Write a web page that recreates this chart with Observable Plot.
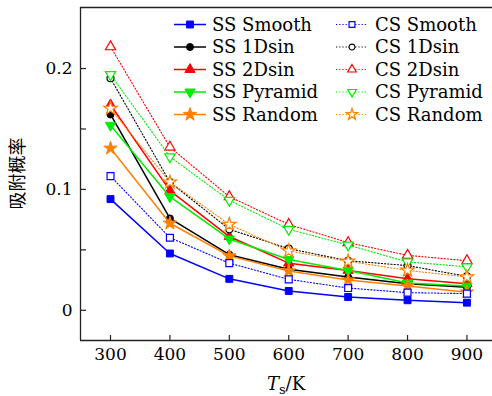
<!DOCTYPE html>
<html>
<head>
<meta charset="utf-8">
<script src="https://cdn.jsdelivr.net/npm/d3@7"></script>
<script src="https://cdn.jsdelivr.net/npm/@observablehq/plot@0.6"></script>
<style>
html, body { margin: 0; padding: 0; background: white; }
</style>
</head>
<body>
<div id="chart"></div>
<script>
// ---- data ----
const temps = [300, 400, 500, 600, 700, 800, 900];
const ssSmooth  = [0.092, 0.047, 0.026, 0.016, 0.011, 0.0083, 0.0063];
const ss1Dsin   = [0.162, 0.076, 0.046, 0.034, 0.0275, 0.022, 0.019];
const ss2Dsin   = [0.170, 0.099, 0.061, 0.039, 0.033, 0.026, 0.022];
const ssPyramid = [0.153, 0.094, 0.059, 0.042, 0.033, 0.0226, 0.020];
const ssRandom  = [0.134, 0.072, 0.045, 0.0325, 0.025, 0.020, 0.015];
const csSmooth  = [0.111, 0.060, 0.039, 0.0256, 0.0184, 0.0146, 0.0138];
const cs1Dsin   = [0.192, 0.106, 0.067, 0.051, 0.041, 0.037, 0.028];
const cs2Dsin   = [0.218, 0.135, 0.094, 0.071, 0.056, 0.0455, 0.041];
const csPyramid = [0.195, 0.127, 0.091, 0.067, 0.054, 0.040, 0.036];
const csRandom  = [0.167, 0.106, 0.071, 0.049, 0.0405, 0.033, 0.0275];
const yTickLabels = [0, 0.1, 0.2];
const yTicksAll = [0, 0.05, 0.1, 0.15, 0.2];
const xLabelParts = ["T", "s", "/K"];
const yLabel = "吸附概率";

const series = [
  {name: "SS Smooth",  values: ssSmooth,  color: "#0000ff", symbol: "square",   rotate: 0,   open: false, dashed: false},
  {name: "SS 1Dsin",   values: ss1Dsin,   color: "#000000", symbol: "circle",   rotate: 0,   open: false, dashed: false},
  {name: "SS 2Dsin",   values: ss2Dsin,   color: "#ff0000", symbol: "triangle", rotate: 0,   open: false, dashed: false},
  {name: "SS Pyramid", values: ssPyramid, color: "#00ee00", symbol: "triangle", rotate: 180, open: false, dashed: false},
  {name: "SS Random",  values: ssRandom,  color: "#ff8000", symbol: "star",     rotate: 0,   open: false, dashed: false},
  {name: "CS Smooth",  values: csSmooth,  color: "#0000ff", symbol: "square",   rotate: 0,   open: true,  dashed: true},
  {name: "CS 1Dsin",   values: cs1Dsin,   color: "#000000", symbol: "circle",   rotate: 0,   open: true,  dashed: true},
  {name: "CS 2Dsin",   values: cs2Dsin,   color: "#ff0000", symbol: "triangle", rotate: 0,   open: true,  dashed: true},
  {name: "CS Pyramid", values: csPyramid, color: "#00ee00", symbol: "triangle", rotate: 180, open: true,  dashed: true},
  {name: "CS Random",  values: csRandom,  color: "#ff8000", symbol: "star",     rotate: 0,   open: true,  dashed: true}
];
const radius = {square: 3.9, circle: 3.5, triangle: 3.8, star: 4.2};

const rows = series.flatMap(s => temps.map((t, i) => ({series: s.name, T: t, p: s.values[i]})));

// ---- layout ----
const W = 492, H = 396;
const mL = 80, mR = 0, mT = 7, mB = 56;
const xDomain = [249.5, 943];
const yDomain = [-0.025, 0.2505];
const serif = "'DejaVu Serif', serif";

const marks = [];
for (const s of series) {
  const data = rows.filter(d => d.series === s.name);
  marks.push(Plot.line(data, {
    x: "T", y: "p", stroke: s.color,
    strokeWidth: s.dashed ? 1.1 : 1.5,
    strokeDasharray: s.dashed ? "1.2,2" : null
  }));
  marks.push(Plot.dot(data, {
    x: "T", y: "p", symbol: s.symbol, r: radius[s.symbol], rotate: s.rotate,
    fill: s.open ? "white" : s.color, stroke: s.color, strokeWidth: s.open ? 1.2 : 1
  }));
}

const plot = Plot.plot({
  width: W, height: H,
  marginLeft: mL, marginRight: mR, marginTop: mT, marginBottom: mB,
  style: {fontFamily: serif, fontSize: "17px", background: "white", color: "black"},
  x: {domain: xDomain},
  y: {domain: yDomain},
  marks: [
    Plot.axisY({ticks: yTickLabels, tickSize: 0, tickPadding: 8, tickFormat: d => String(d), label: null, fontSize: 17}),
    Plot.axisX({ticks: temps, tickSize: 0, tickPadding: 7, tickFormat: d => String(d), label: null, fontSize: 17}),
    Plot.tickY(yTicksAll, {y: d => d, insetRight: (W - mL - mR) - 6, stroke: "#222", strokeWidth: 1.2}),
    Plot.tickX(temps, {x: d => d, insetTop: (H - mT - mB) - 5, stroke: "#222", strokeWidth: 1.2}),
    ...marks,
    Plot.ruleX([xDomain[0]], {stroke: "#222", strokeWidth: 1.3}),
    Plot.ruleY([yDomain[0]], {stroke: "#222", strokeWidth: 1.3}),
    Plot.ruleY([yDomain[1]], {stroke: "#222", strokeWidth: 1.3})
  ]
});

// ---- legend (inside plot, two columns) ----
const svg = d3.select(plot);
const symType = {square: d3.symbolSquare, circle: d3.symbolCircle, triangle: d3.symbolTriangle, star: d3.symbolStar};
const leg = svg.append("g");
const cols = [{x0: 174, x1: 206, tx: 212}, {x0: 336, x1: 368, tx: 375}];
const rowY0 = 24.5, rowDy = 22.5;
series.forEach((s, i) => {
  const c = cols[Math.floor(i / 5)];
  const y = rowY0 + (i % 5) * rowDy;
  const g = leg.append("g");
  g.append("line").attr("x1", c.x0).attr("x2", c.x1).attr("y1", y).attr("y2", y)
    .attr("stroke", s.color).attr("stroke-width", s.dashed ? 1.1 : 1.5)
    .attr("stroke-dasharray", s.dashed ? "1.2,2" : null);
  const r = radius[s.symbol] * (s.open ? 0.85 : 1);
  g.append("path")
    .attr("d", d3.symbol(symType[s.symbol], Math.PI * r * r)())
    .attr("transform", `translate(${(c.x0 + c.x1) / 2},${y}) rotate(${s.rotate})`)
    .attr("fill", s.open ? "white" : s.color).attr("stroke", s.color).attr("stroke-width", s.open ? 1.2 : 1);
  g.append("text").attr("x", c.tx).attr("y", y).attr("dy", "0.36em")
    .style("font-family", serif).style("font-size", "18px")
    .attr("text-anchor", "start").attr("fill", "black").text(s.name);
});

// ---- axis labels ----
const xl = svg.append("text")
  .attr("x", mL + (W - mL - mR) / 2).attr("y", 390)
  .attr("text-anchor", "middle")
  .style("font-family", serif).style("font-size", "18px").attr("fill", "black");
xl.append("tspan").style("font-style", "italic").text(xLabelParts[0]);
xl.append("tspan").style("font-size", "13px").attr("dy", 4).text(xLabelParts[1]);
xl.append("tspan").attr("dy", -4).text(xLabelParts[2]);

svg.append("text")
  .attr("transform", `translate(18,${mT + (H - mT - mB) / 2}) rotate(-90)`)
  .attr("text-anchor", "middle").attr("dy", "0.35em")
  .style("font-family", "'Noto Sans CJK SC', sans-serif").style("font-size", "18px").attr("fill", "black")
  .text(yLabel);

document.getElementById("chart").appendChild(plot);
</script>
</body>
</html>
